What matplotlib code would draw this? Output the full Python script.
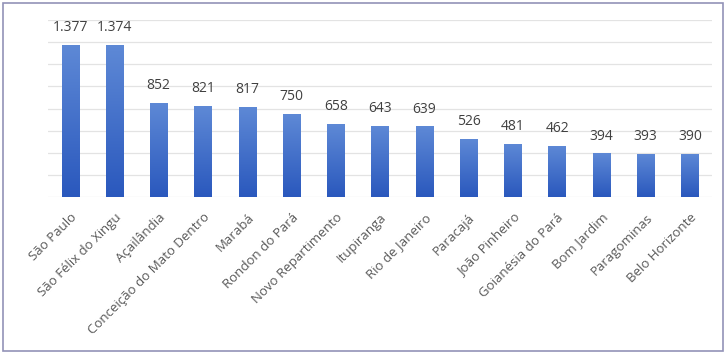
import matplotlib
matplotlib.use("Agg")
import matplotlib.pyplot as plt
import numpy as np
from matplotlib.patches import Rectangle
from matplotlib.colors import LinearSegmentedColormap

categories = ["São Paulo", "São Félix do Xingu", "Açailândia", "Conceição do Mato Dentro",
              "Marabá", "Rondon do Pará", "Novo Repartimento", "Itupiranga", "Rio de Janeiro",
              "Paracajá", "João Pinheiro", "Goianésia do Pará", "Bom Jardim", "Paragominas",
              "Belo Horizonte"]
values = [1377, 1374, 852, 821, 817, 750, 658, 643, 639, 526, 481, 462, 394, 393, 390]
value_labels = ["1.377", "1.374", "852", "821", "817", "750", "658", "643", "639",
                "526", "481", "462", "394", "393", "390"]

plt.rcParams['font.family'] = ['Open Sans', 'DejaVu Sans']

fig = plt.figure(figsize=(7.28, 3.54), dpi=100)
fig.patches.append(Rectangle((3/728, 3/354), 720/728, 348/354, transform=fig.transFigure,
                             fill=False, edgecolor="#9292b8", linewidth=1.2))
ax = fig.add_axes([48/728, 1 - 197/354, 664/728, 177/354])

x = np.arange(len(categories))
bars = ax.bar(x, values, width=0.39, color="#3a66c4", zorder=3)

grad = np.linspace(0, 1, 256).reshape(-1, 1)
cmap = LinearSegmentedColormap.from_list("g", ["#2a58bd", "#5e89d6"])
for b in bars:
    bx, by = b.get_x(), b.get_y()
    w, h = b.get_width(), b.get_height()
    im = ax.imshow(grad, extent=[bx, bx + w, by, by + h], origin="lower", aspect="auto",
                   cmap=cmap, zorder=4)
    im.set_clip_path(b)

for xi, v, lab in zip(x, values, value_labels):
    ax.annotate(lab, (xi, v), xytext=(0, 7), textcoords="offset points",
                ha="center", va="bottom", fontsize=10, color="#404040")

ax.set_xlim(-0.5, len(categories) - 0.5)
ax.set_ylim(0, 1600)
ax.set_yticks(np.arange(0, 1601, 200))
ax.set_yticklabels([])
ax.tick_params(axis="y", length=0)
ax.grid(axis="y", color="#e3e3e3", linewidth=0.9, zorder=0)
ax.set_axisbelow(True)
for s in ax.spines.values():
    s.set_visible(False)
ax.set_xticks(x)
ax.set_xticklabels(categories, rotation=45, ha="right", rotation_mode="anchor",
                   fontsize=9.5, color="#595959")
ax.tick_params(axis="x", length=0, pad=10)

fig.savefig("out.png", dpi=100)
